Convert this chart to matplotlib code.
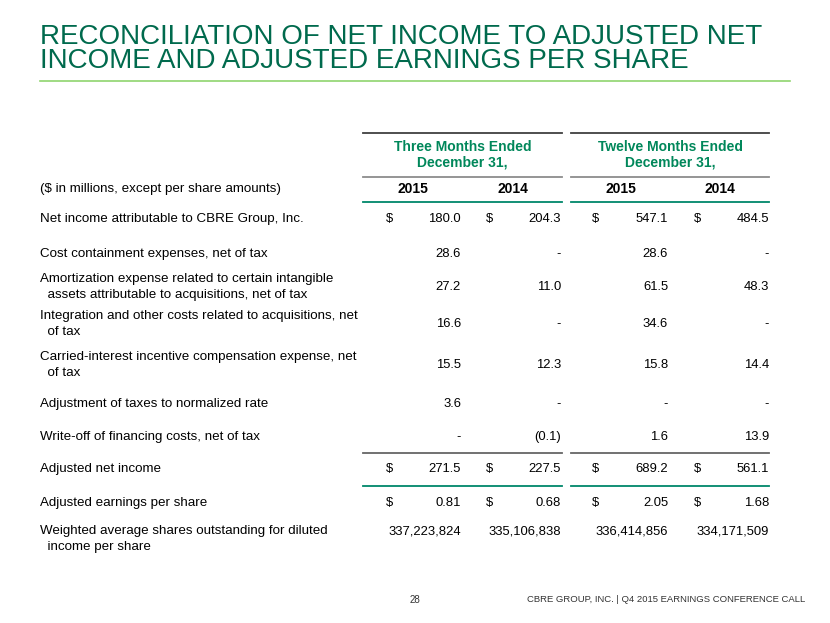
import matplotlib.pyplot as plt

# ----------------- Data -----------------
title_lines = ["RECONCILIATION OF NET INCOME TO ADJUSTED NET",
               "INCOME AND ADJUSTED EARNINGS PER SHARE"]
group_labels = ["Three Months Ended\nDecember 31,", "Twelve Months Ended\nDecember 31,"]
years = ["2015", "2014", "2015", "2014"]
units_label = "($ in millions, except per share amounts)"

row_labels = [
    "Net income attributable to CBRE Group, Inc.",
    "Cost containment expenses, net of tax",
    "Amortization expense related to certain intangible\n  assets attributable to acquisitions, net of tax",
    "Integration and other costs related to acquisitions, net\n  of tax",
    "Carried-interest incentive compensation expense, net\n  of tax",
    "Adjustment of taxes to normalized rate",
    "Write-off of financing costs, net of tax",
    "Adjusted net income",
    "Adjusted earnings per share",
    "Weighted average shares outstanding for diluted\n  income per share",
]
q4_2015 = ["180.0", "28.6", "27.2", "16.6", "15.5", "3.6", "-", "271.5", "0.81", "337,223,824"]
q4_2014 = ["204.3", "-", "11.0", "-", "12.3", "-", "(0.1)", "227.5", "0.68", "335,106,838"]
fy_2015 = ["547.1", "28.6", "61.5", "34.6", "15.8", "-", "1.6", "689.2", "2.05", "336,414,856"]
fy_2014 = ["484.5", "-", "48.3", "-", "14.4", "-", "13.9", "561.1", "1.68", "334,171,509"]
dollar_rows = [0, 7, 8]

footer_page = "28"
footer_text = "CBRE GROUP, INC. | Q4 2015 EARNINGS CONFERENCE CALL"

# ----------------- Style -----------------
DARK_GREEN = "#006A4D"
HEAD_GREEN = "#00875A"
LIGHT_GREEN = "#8FD46E"
RULE_GREEN = "#00876A"
FONT = "Liberation Sans"
LABEL_FS = 9.6
NUM_FS = 9.4

fig = plt.figure(figsize=(8.3, 6.23), dpi=100)
ax = fig.add_axes([0, 0, 1, 1])
ax.set_xlim(0, 830)
ax.set_ylim(623, 0)
ax.axis("off")

# title
for i, line in enumerate(title_lines):
    ax.text(40, 36.5 + i * 25, line, fontsize=20, color=DARK_GREEN,
            family=FONT, va="center", ha="left")
ax.plot([40, 790], [80.5, 80.5], color=LIGHT_GREEN, lw=1.2)

# column geometry
groups = [(363, 562), (571, 769)]
val_right = [461, 561, 668, 769]
dollar_x = [386, 486, 592, 694]
year_x = [413, 513, 621, 720]

for (x0, x1), lab in zip(groups, group_labels):
    ax.plot([x0, x1], [133, 133], color="#404040", lw=1.3)
    ax.plot([x0, x1], [177, 177], color="#8C8C8C", lw=1.3)
    ax.plot([x0, x1], [202, 202], color=RULE_GREEN, lw=1.3)
    ax.plot([x0, x1], [453, 453], color="#666666", lw=1.3)
    ax.plot([x0, x1], [486, 486], color=RULE_GREEN, lw=1.3)
    ax.text((x0 + x1) / 2, 155, lab, fontsize=10, fontweight="bold",
            color=HEAD_GREEN, family=FONT, ha="center", va="center",
            linespacing=1.15)

for x, yr in zip(year_x, years):
    ax.text(x, 189, yr, fontsize=10, fontweight="bold", color="black",
            family=FONT, ha="center", va="center")
ax.text(40, 189, units_label, fontsize=LABEL_FS, color="black", family=FONT,
        ha="left", va="center")

# rows
row_y = [219, 254, 287, 324, 365, 404, 437, 469, 503, 539]
cols = [q4_2015, q4_2014, fy_2015, fy_2014]
for r, (lab, y) in enumerate(zip(row_labels, row_y)):
    ax.text(40, y, lab, fontsize=LABEL_FS, color="black", family=FONT,
            ha="left", va="center", linespacing=1.4)
    vy = y - 8 if r == len(row_labels) - 1 else y
    for c, col in enumerate(cols):
        ax.text(val_right[c], vy, col[r], fontsize=NUM_FS, color="black",
                family=FONT, ha="right", va="center")
        if r in dollar_rows:
            ax.text(dollar_x[c], vy, "$", fontsize=NUM_FS, color="black",
                    family=FONT, ha="left", va="center")

# footer
ax.text(410, 600, footer_page, fontsize=7, color="#333333", family=FONT,
        ha="left", va="center")
ax.text(805, 600, footer_text, fontsize=6.8, color="#333333", family=FONT,
        ha="right", va="center")

fig.savefig("out.png", dpi=100)
